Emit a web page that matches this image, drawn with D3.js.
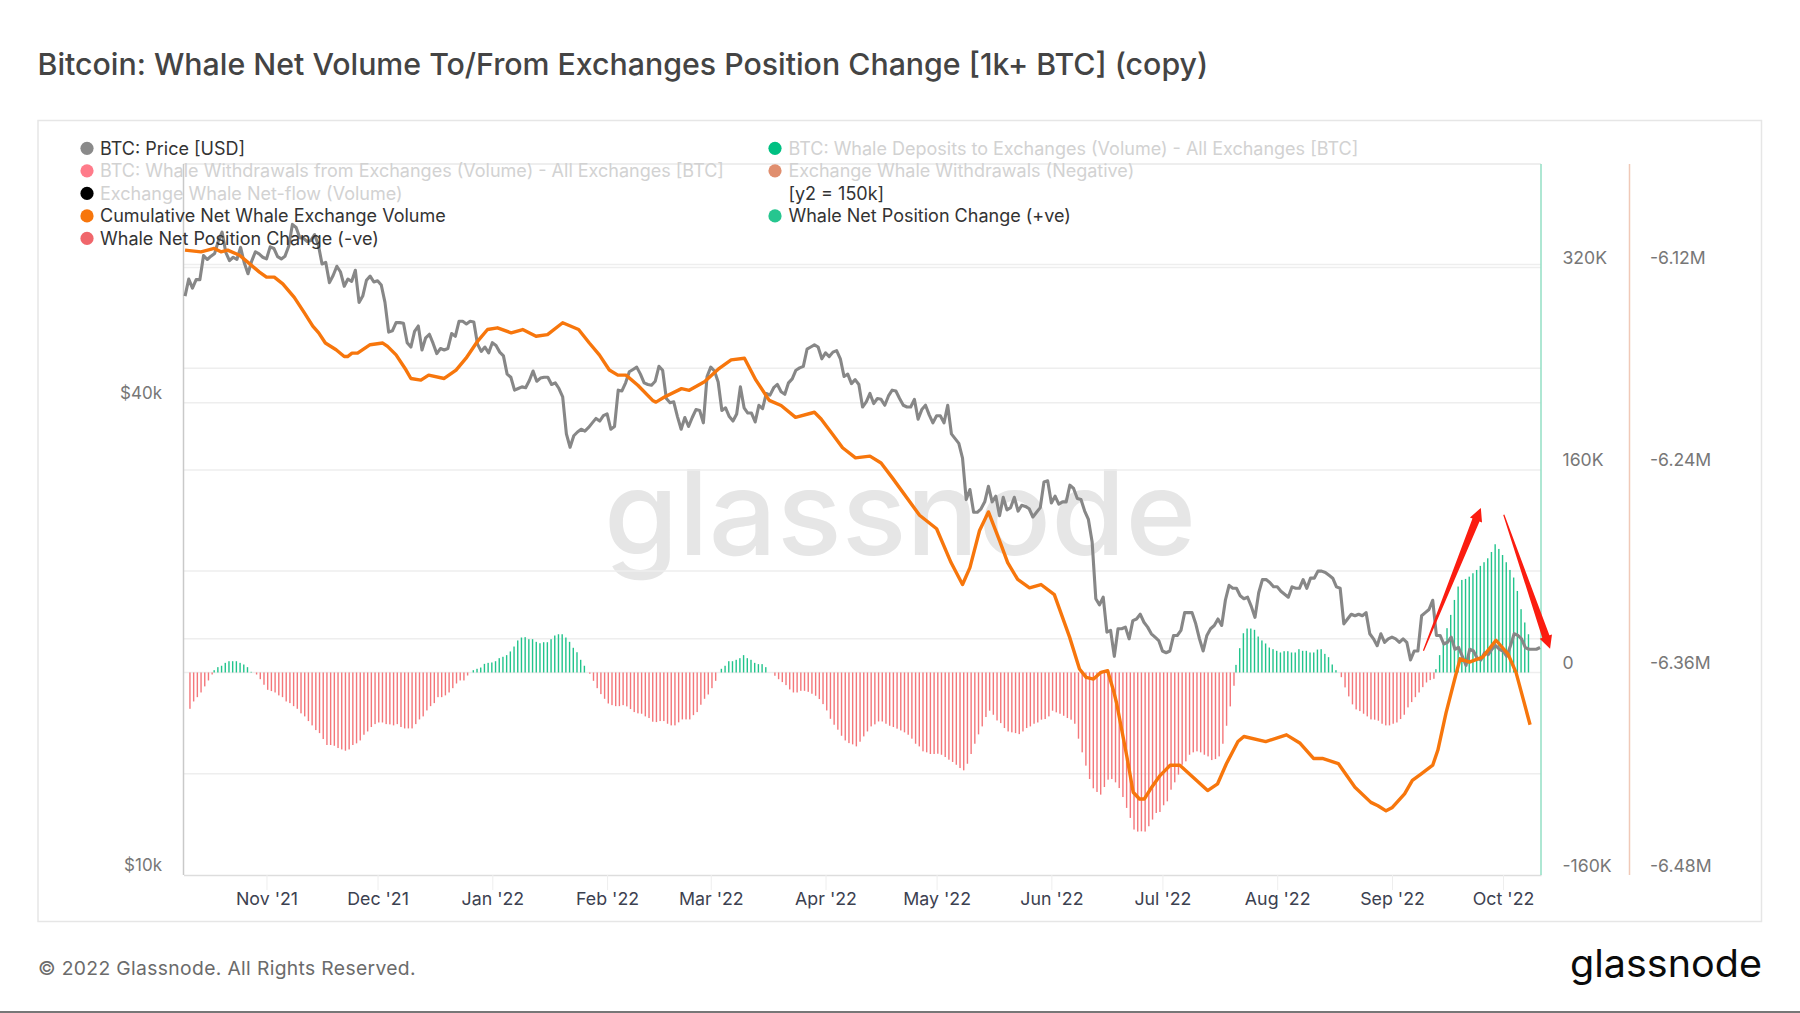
<!DOCTYPE html>
<html>
<head>
<meta charset="utf-8">
<script src="https://cdn.jsdelivr.net/npm/d3@7"></script>
<style>
  html, body { margin: 0; padding: 0; background: #fff; }
  svg { display: block; font-family: Inter, 'Noto Sans', sans-serif; }
</style>
</head>
<body>
<svg id="chart" width="1800" height="1013"></svg>
<script>
const DAY = 864e5;
const lineStart = Date.UTC(2021, 9, 10);
const barStart = Date.UTC(2021, 9, 11);

const monthTicks = [
  [2021, 10], [2021, 11], [2022, 0], [2022, 1], [2022, 2], [2022, 3],
  [2022, 4], [2022, 5], [2022, 6], [2022, 7], [2022, 8], [2022, 9]
];
const priceLabels = [40, 10];
const priceGrid = [60, 40, 20];
const netLabels = [320, 160, 0, -160];
const netGrid = [320, 160, 0];
const cumLabels = [-6.12, -6.24, -6.36, -6.48];
const cumGrid = [-6.18, -6.30, -6.42];

// BTC price, thousand USD, one value a day from 10 Oct '21
const priceK = [
  54.7,57.5,56,57.4,57.4,61.6,60.9,61.5,62,64.3,66,62.2,60.7,61.3,60.9,63.1,60.3,58.4,60.6,62.3,61.9,61.3,
  61,63.2,62.9,61.4,61,61.5,63.3,67.5,66.9,64.9,64.8,64.2,64.4,65.5,63.6,60.1,60.4,56.9,58.1,59.7,58.7,56.3,57.5,57.1,59,53.7,54.7,57.3,58,57,
  57.2,56.5,53.7,49.2,49.4,50.6,50.6,50.5,47.7,47.1,49.3,50.1,46.7,48.4,48.9,47.6,46.2,46.9,46.7,46.9,49,48.6,50.8,50.8,50.4,50.8,50.7,47.5,46.5,47.1,46.3,
  47.7,47.3,46.4,45.9,43.5,43.1,41.5,41.7,41.9,41.8,42.7,43.9,42.6,43,43.1,43.1,42.2,42.4,41.7,40.7,36.5,35.1,36.3,36.7,37,36.8,37.2,37.7,38.2,37.9,38.5,
  38.7,37,37.3,41.5,41.4,42.4,43.8,44.1,44.4,43.5,42.4,42.2,42.1,42.6,44.5,44,40.5,40,40.1,38.4,37,38.3,37.3,38.3,39.2,39.1,37.7,43.2,
  44.4,43.9,42.5,39.1,39.4,38.4,37.9,38.7,41.9,39.4,38.8,38.8,37.8,39.7,39.3,41.1,40.9,41.8,42.2,41.3,41,42.4,42.9,44,44.3,44.5,46.8,47.1,47.4,47.1,45.5,
  46.3,45.8,46.4,46.6,45.5,43.2,43.5,42.3,42.8,42.2,39.5,40.1,41.1,39.9,40.5,40.4,39.7,40.8,41.5,41.4,40.5,39.7,39.5,39.5,40.4,38.1,39.2,39.7,38.6,37.7,
  38.5,38.5,37.7,39.7,36.5,36,35.5,34,30.1,31,29,29,29.3,29.9,31.3,29.9,30.4,28.7,30.3,29.2,29.4,30.3,29.1,29.6,29.5,29.3,28.6,29,29.4,31.7,31.8,
  29.8,30.4,29.7,29.9,29.9,31.4,31.1,30.2,30.1,29.1,28.4,26.6,22.5,22.1,22.6,20.4,20.5,19,20.6,20.6,20.7,20,21.1,21.2,21.5,21,20.7,20.3,20.1,19.9,
  19.3,19.2,19.3,20.2,20.2,20.5,21.6,21.6,21.6,20.9,20,19.3,20.2,20.6,20.8,21.2,20.8,22.4,23.4,23.2,23.2,22.7,22.5,22.6,22,21.3,22.9,23.8,23.8,23.6,23.3,
  23.3,23,22.8,22.6,23.3,23.2,23.2,23.8,23.2,23.9,23.9,24.4,24.4,24.3,24.1,23.9,23.3,23.2,20.9,21.2,21.5,21.4,21.5,21.4,21.6,20.3,20,19.6,20.3,19.8,20,
  20.1,20,19.8,20,19.8,18.8,19.3,19.3,21.4,21.6,21.8,22.4,20.2,20.2,19.7,19.8,20.1,19.4,19.5,19,18.5,19.4,19.3,18.9,18.8,19.2,19.1,19.4,19.6,19.4,
  19.3,19,19.6,20.3,20.2,20,19.5,19.4,19.4,19.4,19.5
];

// Whale net position change, thousand BTC, one value a day from 11 Oct '21
const netK = [
  -28.7,-22.9,-19.5,-15.8,-11,-6.3,-1.6,1.8,4.2,5.3,7.6,8.9,8.9,8.9,7.6,6.3,4.2,.5,
  -1.6,-5.3,-9.7,-13.7,-14.7,-15.8,-18.1,-19.5,-22.9,-24.2,
  -26.6,-28.7,-32.3,-34.7,-38.4,-41.8,-45.5,-47.9,-52.6,-57.3,
  -57.3,-57.9,-59.7,-60.8,-61.8,-60.8,-57.3,-56,-53.7,-49.2,
  -46.6,-43.1,-40.8,-39.5,-39.5,-40.8,-41,-41.8,-40.8,-43.1,
  -44.2,-44.2,-44.2,-40.8,-37.1,-34.7,-30,-26.6,-24.2,-19.5,
  -19.5,-18.1,-15.8,-12.4,-8.7,-6.3,-6.3,-2.4,0,
  1.8,2.9,3.9,6.8,7.6,7.9,8.9,11.3,12.4,13.7,16.6,20.5,25.3,27.6,27.9,26.3,26.3,24.2,23.1,23.9,23.9,26.3,29.2,30.2,30.2,27.6,24.2,19.5,16,10,5.3,
  -1,-6.6,-12.4,-17.1,-20.8,-24.5,-25.8,-26.6,-26.6,-25.8,-26.8,-28.9,-31.3,-32.3,-32.6,-34.7,-36,-38.9,-39.2,-38.4,-38.4,-40.5,-41.8,-41.8,-39.4,-37.1,-37.1,-37.1,-33.7,-31.3,-25.5,-20.8,-17.4,-12.4,-6.6,0,
  2.9,5.3,8.9,8.9,10,11.3,13.7,11.3,10,7.6,6.6,6.6,4.2,0,
  -2.6,-5.3,-7.6,-10,-13.4,-15.8,-15.8,
  -14.5,-14.5,-15.3,-16.8,-18.4,-21,-25,-30,-36.6,-41.3,
  -45.2,-50,-53.7,-55.8,-56.8,-58.4,-54.7,-50.5,-46.6,-42.6,
  -41,-38.7,-38.7,-40.5,-42.1,-43.1,-44.4,-45.8,-47.3,-49.2,
  -52.3,-56.3,-58.4,-62.3,-63.1,-64.4,-64.4,-64.2,-65,-66.8,
  -68.9,-70.7,-72.9,-75.5,-77.3,-72.1,-64.4,-56.3,-48.9,-42.6,
  -35.2,-30.2,-33.4,-37.9,-40,-43.9,-46.6,-47.3,-47.9,-48.7,
  -46.6,-43.9,-42.6,-40.5,-39.5,-37.3,-36.8,-34.7,-30.2,-31.5,-32.6,
  -34.2,-36,-37.3,-40.5,-52.3,-63.1,-73.6,-84.2,-91.5,-94.4,
  -96.5,-90.5,-84.7,-84.2,-86.8,-91.3,-98.4,-107,-114.9,-124.1,
  -125.7,-125.5,-125.7,-121.5,-116.2,-111,-110.2,-104.9,-101.8,-92.6,
  -86.8,-80.7,-72.9,-70.2,-65,-63.1,-62.3,-63.1,-65,-66.3,
  -69.2,-68.4,-66.3,-56.3,-42.1,-26.8,-10.5,
  6,19.2,31,34.7,34.7,33.7,28.4,25.3,22.9,19.7,18.4,17.1,15.8,16.8,16.8,15.8,15.8,18.4,17.1,17.1,15.8,15.8,18.1,18.4,14.7,12.1,6.3,1.8,
  -3.7,-11.8,-18.9,-25.2,-29.2,-30.5,-32.6,-34.7,-37.1,-37.3,-38.1,-40.5,-41.8,-41.8,-40.5,-39.5,-36.8,-33.4,-27.6,-23.4,-19.5,-15.8,-11.6,-7.9,-6,-5,
  2.6,13.7,24.5,35,45.5,57.3,67.9,73.1,73.9,75.7,78.4,81,84.2,87.1,90.2,95.2,101.3,97.6,92.8,87.1,81,75,64.4,50,39.5,30.2
];

// Cumulative net whale volume, read at the line's bends: days after 10 Oct '21 and million BTC
const cumDays = [
  0,4.3,7.9,9.7,11.5,14.7,17.4,20.1,22,24.1,26.4,29.5,32.2,34.5,36.1,37.9,40.8,43,43.9,45.1,46.6,50,53.4,54.7,57,59.7,61,63.7,65.8,70,
  73.2,75.9,79,81.7,84.4,88.1,91.2,94.8,97.9,102,106.3,109.2,111.9,114.6,116.9,119.1,122.3,126.3,127.2,129.5,134.1,136.2,140.3,144.3,147.5,151.1,154.2,157.8,161,164.9,
  170,171.8,174.9,177.6,181.1,185,188,191.1,198.4,203,206.9,210,212,214.6,217,220,222.2,224.9,228.1,231.2,234.8,238.9,241.6,243.4,245.4,247.4,249.2,250.8,251.6,254.4,
  256.1,257.8,259.1,261.1,263.4,266.1,268.7,276.2,278.9,281.3,284.4,286,291.9,297.5,301.2,304.8,307.2,311.5,316,320.3,322.2,324.4,326.1,329.4,331.5,334,337,338.4,340.6,343.3,
  344.4,346.9,350.5,354.1,357.3,359.5,363.3
];
const cumM = [
  -6.110,-6.111,-6.109,-6.111,-6.110,-6.113,-6.118,-6.123,-6.126,-6.126,-6.130,-6.138,-6.147,-6.155,-6.159,-6.165,-6.169,-6.173,-6.173,-6.171,-6.171,-6.166,-6.165,-6.167,-6.172,-6.181,-6.186,-6.187,-6.184,-6.186,
  -6.181,-6.174,-6.164,-6.157,-6.156,-6.159,-6.157,-6.161,-6.160,-6.153,-6.157,-6.165,-6.172,-6.181,-6.184,-6.184,-6.190,-6.199,-6.200,-6.197,-6.192,-6.193,-6.188,-6.180,-6.175,-6.174,-6.187,-6.199,-6.202,-6.209,
  -6.206,-6.210,-6.219,-6.227,-6.233,-6.232,-6.236,-6.245,-6.267,-6.275,-6.295,-6.308,-6.298,-6.276,-6.265,-6.282,-6.295,-6.305,-6.310,-6.308,-6.314,-6.339,-6.358,-6.363,-6.364,-6.360,-6.359,-6.371,-6.378,-6.410,
  -6.431,-6.435,-6.435,-6.428,-6.421,-6.415,-6.415,-6.430,-6.426,-6.414,-6.401,-6.398,-6.401,-6.397,-6.402,-6.411,-6.411,-6.414,-6.428,-6.437,-6.439,-6.442,-6.440,-6.432,-6.424,-6.420,-6.415,-6.406,-6.384,-6.361,
  -6.352,-6.354,-6.351,-6.341,-6.349,-6.360,-6.391
];

// Hand drawn red arrows: days after 10 Oct '21 and thousand BTC on the net axis
const arrowDays = [[334.5, 350], [356.2, 368.7]];
const arrowNetK = [[17.1, 130], [124.6, 18.7]];

const legendLeft = [
  ['BTC: Price [USD]', '#8a8a8a', true],
  ['BTC: Whale Withdrawals from Exchanges (Volume) - All Exchanges [BTC]', '#ff7b8a', false],
  ['Exchange Whale Net-flow (Volume)', '#000', false],
  ['Cumulative Net Whale Exchange Volume', '#f7760c', true],
  ['Whale Net Position Change (-ve)', '#f0666b', true]
];
const legendRight = [
  ['BTC: Whale Deposits to Exchanges (Volume) - All Exchanges [BTC]', '#00c082', false],
  ['Exchange Whale Withdrawals (Negative)', '#e08e6e', false],
  ['[y2 = 150k]', null, true],
  ['Whale Net Position Change (+ve)', '#26c68f', true]
];

const plot = { left: 183.5, right: 1541, top: 164, bottom: 875 };
const svg = d3.select('#chart');

const x = d3.scaleUtc()
  .domain([Date.UTC(2021, 9, 9, 14), Date.UTC(2022, 9, 11, 6)])
  .range([plot.left, plot.right]);
const yPrice = d3.scaleLog().domain([10, 80.6]).range([plot.bottom, plot.top]);
const yNet = d3.scaleLinear().domain([-160, 401.7]).range([plot.bottom, plot.top]);
const yCum = d3.scaleLinear().domain([-6.48, -6.059]).range([plot.bottom, plot.top]);

// card
svg.append('rect')
  .attr('x', 38).attr('y', 120.5).attr('width', 1723.5).attr('height', 801)
  .attr('fill', '#fff').attr('stroke', '#e6e6e6').attr('stroke-width', 1.5);

svg.append('text')
  .attr('x', 37.5).attr('y', 75)
  .attr('font-size', 30.3).attr('font-weight', 500).attr('fill', '#444')
  .text('Bitcoin: Whale Net Volume To/From Exchanges Position Change [1k+ BTC] (copy)');

// watermark sits behind everything
svg.append('text')
  .attr('x', 604).attr('y', 555)
  .attr('font-size', 118).attr('font-weight', 500).attr('fill', '#e6e6e6')
  .attr('textLength', 592).attr('lengthAdjust', 'spacingAndGlyphs')
  .text('glassnode');

// grid lines of all three axes
const gridYs = [...priceGrid.map(d => yPrice(d)), ...netGrid.map(d => yNet(d)), ...cumGrid.map(d => yCum(d))];
svg.append('g').selectAll('line').data(gridYs).enter().append('line')
  .attr('x1', plot.left).attr('x2', plot.right)
  .attr('y1', d => d).attr('y2', d => d)
  .attr('stroke', '#eeeeee').attr('stroke-width', 1.5);
svg.append('line')
  .attr('x1', plot.left).attr('x2', plot.right)
  .attr('y1', plot.top).attr('y2', plot.top)
  .attr('stroke', '#e8e8e8').attr('stroke-width', 1.5);

// x axis
const xAxis = d3.axisBottom(x)
  .tickValues(monthTicks.map(([y, m]) => new Date(Date.UTC(y, m, 1))))
  .tickSizeOuter(0).tickSizeInner(15).tickPadding(2)
  .tickFormat(d3.utcFormat("%b '%y"));
const xG = svg.append('g').attr('transform', `translate(0,${plot.bottom})`).call(xAxis);
xG.select('.domain').attr('stroke', '#dddddd').attr('stroke-width', 1.5);
xG.selectAll('.tick line').attr('stroke', '#eeeeee');
xG.selectAll('.tick text')
  .attr('font-family', 'Inter').attr('font-size', 17.8).attr('fill', '#3c4150');

// axis lines
svg.append('line')
  .attr('x1', plot.left).attr('x2', plot.left).attr('y1', plot.top).attr('y2', plot.bottom)
  .attr('stroke', '#c9c9c9').attr('stroke-width', 1.5);
svg.append('line')
  .attr('x1', plot.right).attr('x2', plot.right).attr('y1', plot.top).attr('y2', plot.bottom)
  .attr('stroke', '#93dfc4').attr('stroke-width', 1.5);
svg.append('line')
  .attr('x1', 1629.5).attr('x2', 1629.5).attr('y1', plot.top).attr('y2', plot.bottom)
  .attr('stroke', '#f0c9b8').attr('stroke-width', 1.5);

// bars, the two series sit a little apart inside each day
svg.append('g').selectAll('rect').data(netK).enter().append('rect')
  .attr('x', (d, i) => x(barStart + i * DAY) + (d < 0 ? 0.5 : -1.2))
  .attr('width', 1.4)
  .attr('y', d => yNet(Math.max(d, 0)))
  .attr('height', d => Math.abs(yNet(d) - yNet(0)))
  .attr('fill', d => d < 0 ? '#f4777b' : '#22c48c');

const line = d3.line().x(d => x(d[0])).y(d => d[1]);

svg.append('path')
  .datum(priceK.map((d, i) => [lineStart + i * DAY, yPrice(d)]))
  .attr('d', line)
  .attr('fill', 'none').attr('stroke', '#878787').attr('stroke-width', 3.1).attr('stroke-linejoin', 'round');

svg.append('path')
  .datum(cumDays.map((d, i) => [lineStart + d * DAY, yCum(cumM[i])]))
  .attr('d', line)
  .attr('fill', 'none').attr('stroke', '#f7760c').attr('stroke-width', 3.4).attr('stroke-linejoin', 'round');

// tapered arrows, thin at the tail and wide behind the head
const arrowPath = (p0, p1) => {
  const dx = p1[0] - p0[0], dy = p1[1] - p0[1];
  const len = Math.hypot(dx, dy);
  const ux = dx / len, uy = dy / len, nx = -uy, ny = ux;
  const neck = [p1[0] - ux * 13, p1[1] - uy * 13];
  const at = (p, w) => [p[0] + nx * w, p[1] + ny * w];
  const pts = [at(p0, 0.6), at(neck, 3.8), at(neck, 6.5), p1, at(neck, -6.5), at(neck, -3.8), at(p0, -0.6)];
  return `M${pts.join('L')}Z`;
};
svg.append('g').selectAll('path').data(arrowDays).enter().append('path')
  .attr('d', (d, i) => arrowPath(
    [x(lineStart + d[0] * DAY), yNet(arrowNetK[i][0])],
    [x(lineStart + d[1] * DAY), yNet(arrowNetK[i][1])]
  ))
  .attr('fill', '#fb1c10');

// axis labels sit just above their grid line
const labelStyle = sel => sel
  .attr('font-size', 17.6).attr('fill', '#777').attr('dominant-baseline', 'central');

svg.append('g').selectAll('text').data(priceLabels).enter().append('text')
  .attr('x', 162).attr('y', d => yPrice(d) - 10)
  .attr('text-anchor', 'end')
  .call(labelStyle)
  .attr('font-size', 17)
  .text(d => `$${d}k`);
svg.append('g').selectAll('text').data(netLabels).enter().append('text')
  .attr('x', 1562.5).attr('y', d => yNet(d) - 10)
  .call(labelStyle)
  .text(d => d === 0 ? '0' : `${d}K`);
svg.append('g').selectAll('text').data(cumLabels).enter().append('text')
  .attr('x', 1650).attr('y', d => yCum(d) - 10)
  .call(labelStyle)
  .text(d => `${d.toFixed(2)}M`);

// legend goes over the lines
const drawLegend = (items, dotX, textX) => {
  const rowY = [148.3, 170.8, 193.4, 215.9, 238.4];
  const g = svg.append('g').selectAll('g').data(items).enter().append('g')
    .attr('transform', (d, i) => `translate(0,${rowY[i]})`);
  g.filter(d => d[1]).append('circle')
    .attr('cx', dotX).attr('r', 6.6).attr('fill', d => d[1]);
  g.append('text')
    .attr('x', textX)
    .attr('font-size', 18)
    .attr('dominant-baseline', 'central')
    .attr('fill', d => d[2] ? '#333' : '#d2d2d2')
    .text(d => d[0]);
};
drawLegend(legendLeft, 87, 100);
drawLegend(legendRight, 775, 788.4);

// footer
svg.append('text')
  .attr('x', 38).attr('y', 968)
  .attr('font-size', 19.3).attr('fill', '#6b6b6b').attr('letter-spacing', 0.35)
  .attr('dominant-baseline', 'central')
  .text('© 2022 Glassnode. All Rights Reserved.');
svg.append('text')
  .attr('x', 1570).attr('y', 977)
  .attr('font-size', 38.5).attr('font-weight', 400).attr('fill', '#0b0b0b')
  .attr('textLength', 192).attr('lengthAdjust', 'spacingAndGlyphs')
  .text('glassnode');
svg.append('line')
  .attr('x1', 0).attr('x2', 1800).attr('y1', 1012).attr('y2', 1012)
  .attr('stroke', '#777').attr('stroke-width', 2);
</script>
</body>
</html>
